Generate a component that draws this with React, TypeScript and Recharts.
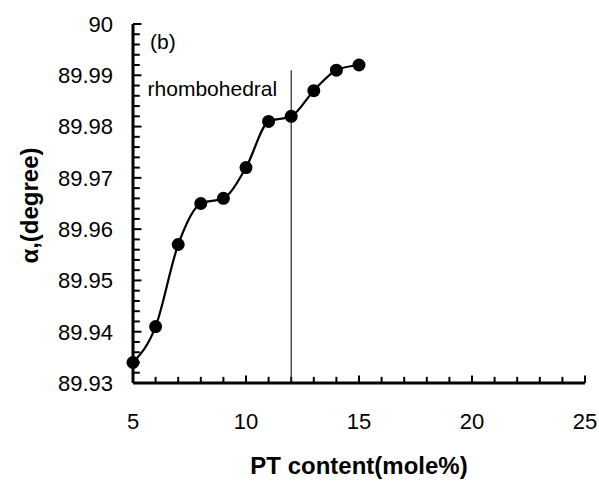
import { LineChart, Line, XAxis, YAxis, ReferenceLine, Label } from "recharts";

const ptContent = [5, 6, 7, 8, 9, 10, 11, 12, 13, 14, 15];
const alpha = [
  89.934, 89.941, 89.957, 89.965, 89.966, 89.972, 89.981, 89.982, 89.987,
  89.991, 89.992,
];

const xMajor = [5, 10, 15, 20, 25];
const xMinor = [6, 7, 8, 9, 11, 12, 13, 14, 16, 17, 18, 19, 21, 22, 23, 24];
const yMajor = [89.93, 89.94, 89.95, 89.96, 89.97, 89.98, 89.99, 90];
const yLabels = ["89.93", "89.94", "89.95", "89.96", "89.97", "89.98", "89.99", "90"];
// minor ticks every 0.002 between the majors
const yMinor = Array.from({ length: 35 }, (_, i) => Math.round((89.93 + i * 0.002) * 1000) / 1000).filter(
  (v) => !yMajor.some((m) => Math.abs(m - v) < 1e-6)
);

const boundary = 12;
const boundaryTop = 89.991;

const data = ptContent.map((pt, i) => ({ pt, alpha: alpha[i] }));

const FONT = "'Liberation Sans', Arial, Helvetica, sans-serif";
// inward tick lengths, in data units (~6-7px on screen)
const X_TICK = 0.0012;
const Y_TICK = 0.3;

function XTick(props: any) {
  const { x, y, payload } = props;
  return (
    <text x={x} y={y} dy="0.71em" textAnchor="middle" fontSize={22} fontFamily={FONT} fill="#000">
      {payload.value}
    </text>
  );
}

function YTick(props: any) {
  const { x, y, payload } = props;
  const idx = yMajor.findIndex((v) => Math.abs(v - payload.value) < 1e-6);
  return (
    <text x={x} y={y} dy="0.36em" textAnchor="end" fontSize={22} fontFamily={FONT} fill="#000">
      {idx >= 0 ? yLabels[idx] : payload.value}
    </text>
  );
}

export default function App() {
  return (
    <div style={{ position: "absolute", left: 0, top: 0, background: "#fff" }}>
      <LineChart
        width={599}
        height={481}
        data={data}
        margin={{ top: 24, right: 14, bottom: 0, left: 0 }}
      >
        <XAxis
          dataKey="pt"
          type="number"
          domain={[5, 25]}
          ticks={xMajor}
          interval={0}
          height={98}
          tick={<XTick />}
          tickSize={0}
          tickMargin={30}
          tickLine={false}
          axisLine={{ stroke: "#000", strokeWidth: 3 }}
        >
          <Label
            content={(p: any) => {
              const vb = p.viewBox;
              return (
                <text
                  x={vb.x + vb.width / 2}
                  y={vb.y + 91}
                  textAnchor="middle"
                  fontSize={24}
                  fontWeight="bold"
                  fontFamily={FONT}
                  fill="#000"
                >
                  PT content(mole%)
                </text>
              );
            }}
          />
        </XAxis>
        <XAxis
          xAxisId="top"
          orientation="top"
          type="number"
          domain={[5, 25]}
          height={0}
          tick={false}
          tickLine={false}
          axisLine={{ stroke: "#000", strokeWidth: 3 }}
        />
        <YAxis
          type="number"
          domain={[89.93, 90]}
          ticks={yMajor}
          interval={0}
          width={133}
          tick={<YTick />}
          tickSize={0}
          tickMargin={20}
          tickLine={false}
          axisLine={{ stroke: "#000", strokeWidth: 3 }}
        >
          <Label
            content={(p: any) => {
              const vb = p.viewBox;
              const cx = vb.x + 29;
              const cy = vb.y + vb.height / 2 + 2;
              return (
                <text
                  x={cx}
                  y={cy}
                  transform={`rotate(-90 ${cx} ${cy})`}
                  textAnchor="middle"
                  dominantBaseline="central"
                  fontSize={24}
                  fontWeight="bold"
                  fontFamily={FONT}
                  fill="#000"
                >
                  α,(degree)
                </text>
              );
            }}
          />
        </YAxis>
        <YAxis
          yAxisId="right"
          orientation="right"
          type="number"
          domain={[89.93, 90]}
          width={0}
          tick={false}
          tickLine={false}
          axisLine={{ stroke: "#000", strokeWidth: 3 }}
        />

        {/* inward tick marks */}
        {xMajor.concat(xMinor).map((v) => (
          <ReferenceLine
            key={`xt${v}`}
            segment={[
              { x: v, y: 89.93 },
              { x: v, y: 89.93 + (xMajor.includes(v) ? X_TICK * 1.2 : X_TICK) },
            ]}
            stroke="#000"
            strokeWidth={2}
          />
        ))}
        {yMajor.concat(yMinor).map((v) => (
          <ReferenceLine
            key={`yt${v}`}
            segment={[
              { x: 5, y: v },
              { x: 5 + (yMajor.includes(v) ? Y_TICK * 1.25 : Y_TICK), y: v },
            ]}
            stroke="#000"
            strokeWidth={2}
          />
        ))}

        <ReferenceLine
          segment={[
            { x: boundary, y: 89.93 },
            { x: boundary, y: boundaryTop },
          ]}
          stroke="#222"
          strokeWidth={1.2}
        >
          <Label
            content={(p: any) => {
              const vb = p.viewBox;
              return (
                <text
                  x={vb.x - 14}
                  y={vb.y + 26}
                  textAnchor="end"
                  fontSize={21}
                  fontFamily={FONT}
                  fill="#000"
                >
                  rhombohedral
                </text>
              );
            }}
          />
        </ReferenceLine>
        <ReferenceLine
          x={5}
          stroke="none"
          label={(p: any) => {
            const vb = p.viewBox;
            return (
              <text x={vb.x + 17} y={vb.y + 25} fontSize={21} fontFamily={FONT} fill="#000">
                (b)
              </text>
            );
          }}
        />
        <Line
          type="monotone"
          dataKey="alpha"
          stroke="#000"
          strokeWidth={2.2}
          dot={{ r: 6.5, fill: "#000", stroke: "#000", strokeWidth: 0 }}
          isAnimationActive={false}
        />
      </LineChart>
    </div>
  );
}
